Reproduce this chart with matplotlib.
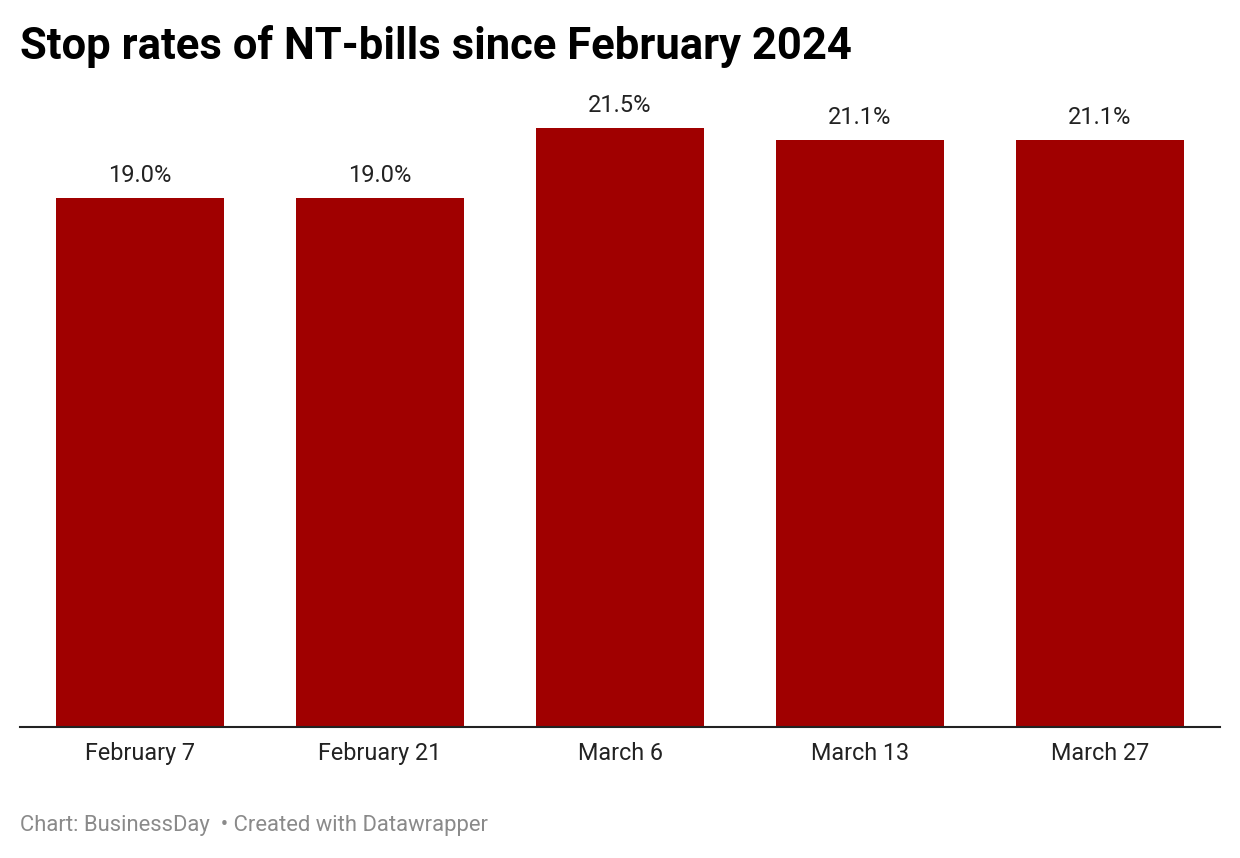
import matplotlib
matplotlib.use("Agg")
import matplotlib.pyplot as plt

# Data
dates = ["February 7", "February 21", "March 6", "March 13", "March 27"]
rates = [19.0, 19.0, 21.5, 21.1, 21.1]
value_labels = ["19.0%", "19.0%", "21.5%", "21.1%", "21.1%"]

plt.rcParams['font.family'] = ['Roboto', 'DejaVu Sans']

W, H = 1240, 858
fig = plt.figure(figsize=(W / 100, H / 100), dpi=100)

# axes: x 20..1220 px, baseline at y=727, top at y=100
ax = fig.add_axes([20 / W, (H - 727) / H, 1200 / W, 627 / H])
px_per_unit = 529 / 19.0
ax.set_ylim(0, 627 / px_per_unit)
ax.set_xlim(-0.5, len(dates) - 0.5)

x = range(len(dates))
bars = ax.bar(x, rates, width=0.7, color="#a00000", zorder=2)

for b, lab in zip(bars, value_labels):
    ax.annotate(lab, (b.get_x() + b.get_width() / 2, b.get_height()),
                xytext=(0, 11), textcoords="offset pixels",
                ha="center", va="bottom", fontsize=17, color="#222222")

ax.set_xticks(list(x))
ax.set_xticklabels(dates, fontsize=16.8, color="#222222")
ax.tick_params(axis="x", length=0, pad=11)
ax.set_yticks([])
for s in ["top", "right", "left"]:
    ax.spines[s].set_visible(False)
ax.spines["bottom"].set_color("#222222")
ax.spines["bottom"].set_linewidth(1.5)
ax.spines["bottom"].set_zorder(3)

fig.text(20 / W, 1 - 46 / H, "Stop rates of NT-bills since February 2024",
         fontsize=31.4, fontweight="bold", color="#000000", va="center", ha="left")
fig.text(20 / W, 1 - 825 / H, "Chart: BusinessDay  \u2022 Created with Datawrapper",
         fontsize=15.8, color="#8a8a8a", va="center", ha="left")

fig.savefig("out.png", dpi=100)
